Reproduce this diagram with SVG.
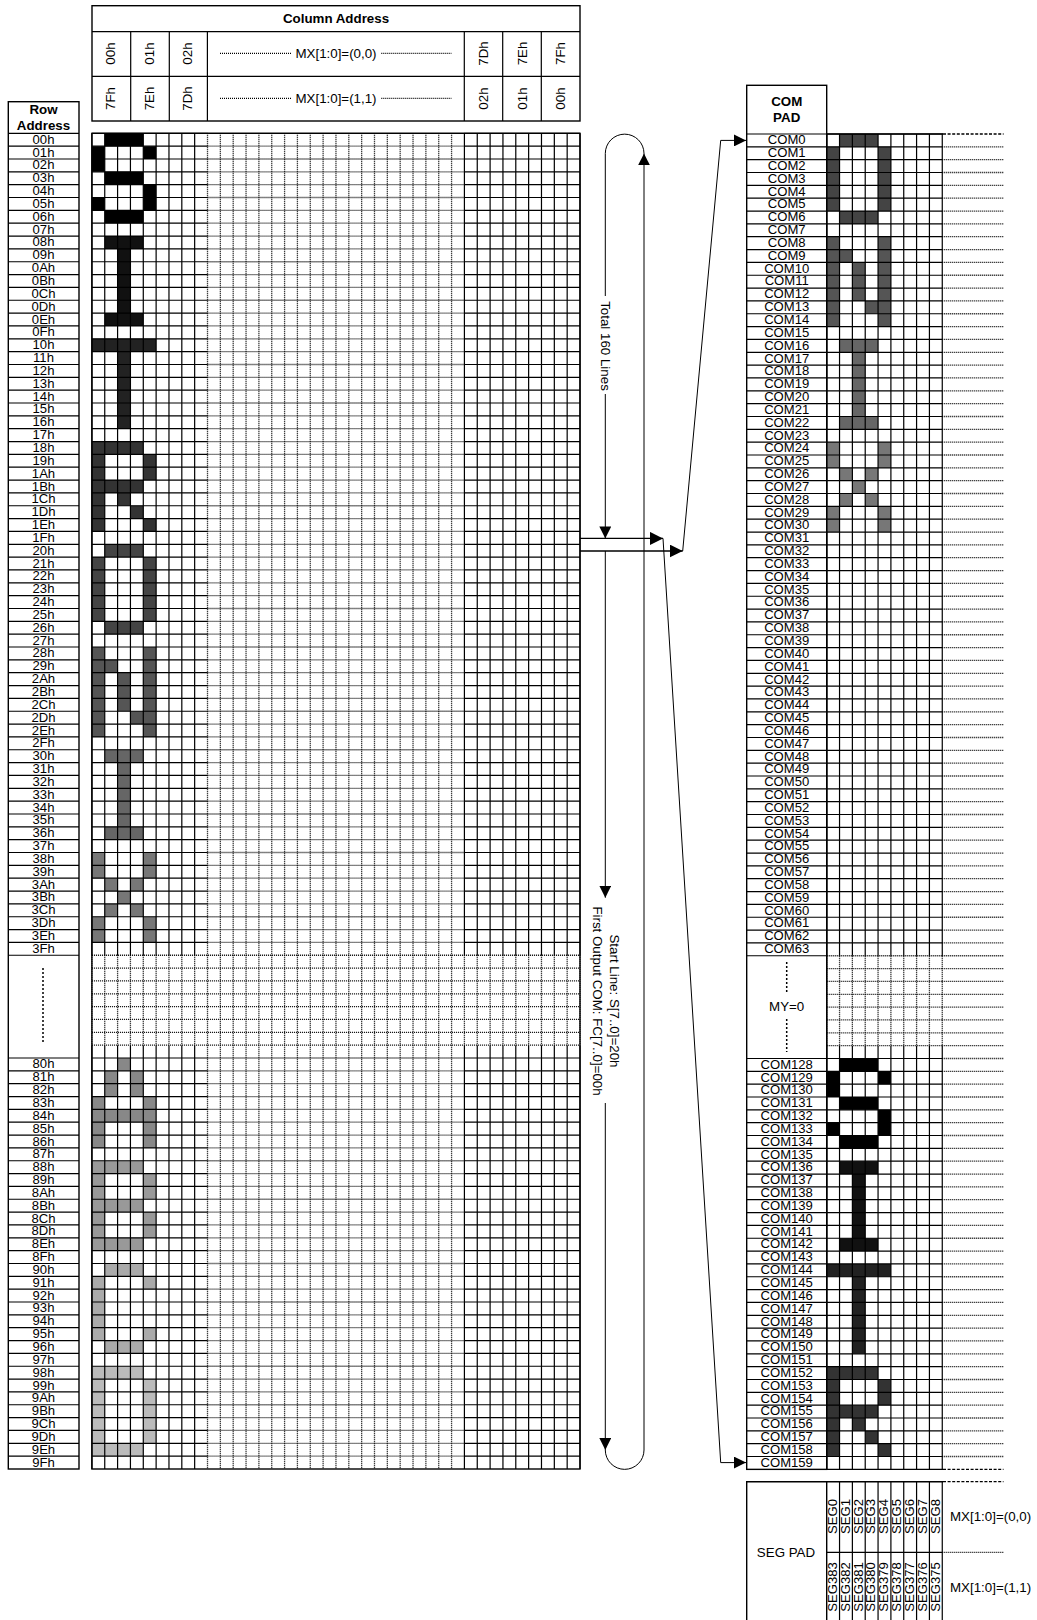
<svg xmlns="http://www.w3.org/2000/svg" width="1037" height="1620" viewBox="0 0 1037 1620">
<style>
text{font-family:"Liberation Sans",Arial,sans-serif;font-size:13.33px;fill:#000}
#row-address g text,#com-pad g text,#seg-pad text[transform]{font-size:13.1px}
.m{text-anchor:middle}
#row-address g text.b,#com-pad g text.b,.b{font-weight:bold;font-size:13.33px}
.s,.d,.w,.o,.c,.k{fill:none;stroke:#000;stroke-width:1.2}
.d{stroke-dasharray:1 1;stroke-width:1.3}
.w{stroke:#fff;stroke-width:2}
.o{stroke-width:1.4}
.k{stroke-width:1.3;stroke-dasharray:3 1.6}
.c{stroke:#000;stroke-width:1}
.v{stroke-width:1.5;stroke-dasharray:2 2}
</style>
<defs>
<marker id="a" markerUnits="userSpaceOnUse" markerWidth="12" markerHeight="12" refX="12" refY="6" orient="auto"><path d="M0 0L12 6L0 12z" fill="#000"/></marker>
<marker id="l" markerUnits="userSpaceOnUse" markerWidth="13" markerHeight="13" refX="13" refY="6.5" orient="auto"><path d="M0 0L13 6.5L0 13z" fill="#000"/></marker>
<path id="hSolidL" d="M91.9 0h115.61m256.9 0h115.6m-488.11 12.843h115.61m256.9 0h115.6m-488.11 12.843h115.61m256.9 0h115.6m-488.11 12.843h115.61m256.9 0h115.6m-488.11 12.843h115.61m256.9 0h115.6m-488.11 12.843h115.61m256.9 0h115.6m-488.11 12.843h115.61m256.9 0h115.6m-488.11 12.843h115.61m256.9 0h115.6"/>
<path id="hMidL" d="M207.51 0h256.9m-256.9 12.843h256.9m-256.9 12.843h256.9m-256.9 12.843h256.9m-256.9 12.843h256.9m-256.9 12.843h256.9m-256.9 12.843h256.9m-256.9 12.843h256.9"/>
<path id="hAllL" d="M91.9 0h488.11m-488.11 12.843h488.11m-488.11 12.843h488.11m-488.11 12.843h488.11m-488.11 12.843h488.11m-488.11 12.843h488.11m-488.11 12.843h488.11m-488.11 12.843h488.11"/>
<path id="hTabL" d="M8.3 0h70.7m-70.7 12.843h70.7m-70.7 12.843h70.7m-70.7 12.843h70.7m-70.7 12.843h70.7m-70.7 12.843h70.7m-70.7 12.843h70.7m-70.7 12.843h70.7"/>
<path id="hGridR" d="M826.7 0h115.56m-115.56 12.84h115.56m-115.56 12.84h115.56m-115.56 12.84h115.56m-115.56 12.84h115.56m-115.56 12.84h115.56m-115.56 12.84h115.56m-115.56 12.84h115.56"/>
<path id="hExtR" d="M942.26 0h61.2m-61.2 12.84h61.2m-61.2 12.84h61.2m-61.2 12.84h61.2m-61.2 12.84h61.2m-61.2 12.84h61.2m-61.2 12.84h61.2m-61.2 12.84h61.2"/>
<path id="hTabR" d="M746.7 0h80m-80 12.84h80m-80 12.84h80m-80 12.84h80m-80 12.84h80m-80 12.84h80m-80 12.84h80m-80 12.84h80"/>
<path id="gS" d="M1 0h3v1h-3zM0 1h1v2h-1zM4 1h1v1h-1zM1 3h3v1h-3zM4 4h1v2h-1zM0 5h1v1h-1zM1 6h3v1h-3z"/>
<path id="gI" d="M1 0h3v1h-3zM2 1h1v5h-1zM1 6h3v1h-3z"/>
<path id="gT" d="M0 0h5v1h-5zM2 1h1v6h-1z"/>
<path id="gR" d="M0 0h4v1h-4zM0 1h1v6h-1zM4 1h1v2h-1zM1 3h3v1h-3zM2 4h1v1h-1zM3 5h1v1h-1zM4 6h1v1h-1z"/>
<path id="gO" d="M1 0h3v1h-3zM0 1h1v5h-1zM4 1h1v5h-1zM1 6h3v1h-3z"/>
<path id="gN" d="M0 0h1v7h-1zM4 0h1v7h-1zM1 1h1v1h-1zM2 2h1v3h-1zM3 5h1v1h-1z"/>
<path id="gX" d="M0 0h1v2h-1zM4 0h1v2h-1zM1 2h1v1h-1zM3 2h1v1h-1zM2 3h1v1h-1zM1 4h1v1h-1zM3 4h1v1h-1zM0 5h1v2h-1zM4 5h1v2h-1z"/>
<path id="gA" d="M2 0h1v1h-1zM1 1h1v2h-1zM3 1h1v2h-1zM0 3h1v4h-1zM4 3h1v4h-1zM1 4h3v1h-3z"/>
<path id="gB" d="M0 0h4v1h-4zM0 1h1v5h-1zM4 1h1v2h-1zM1 3h3v1h-3zM4 4h1v2h-1zM0 6h4v1h-4z"/>
<path id="gC" d="M1 0h3v1h-3zM0 1h1v5h-1zM4 1h1v1h-1zM4 5h1v1h-1zM1 6h3v1h-3z"/>
<path id="gD" d="M0 0h4v1h-4zM0 1h1v5h-1zM4 1h1v5h-1zM0 6h4v1h-4z"/>
</defs>

<g id="column-address">
<rect class="o" x="92" y="5.7" width="488" height="115.3"/>
<path class="s" d="M92 31.7H580M92 76.3H580M130.7 31.7V121M169.3 31.7V121M207.4 31.7V121M464.3 31.7V121M502.7 31.7V121M541.3 31.7V121"/>
<path class="d" d="M220 53.3H291M381.3 53.3H451.7M220 98.3H291M381.3 98.3H451.7"/>
<text class="m b" x="336" y="23">Column Address</text>
<text class="m" x="336" y="58">MX[1:0]=(0,0)</text>
<text class="m" x="336" y="103">MX[1:0]=(1,1)</text>
<text class="m" x="115" y="53.5" transform="rotate(-90 115 53.5)">00h</text>
<text class="m" x="153.5" y="53.5" transform="rotate(-90 153.5 53.5)">01h</text>
<text class="m" x="192" y="53.5" transform="rotate(-90 192 53.5)">02h</text>
<text class="m" x="487.7" y="53.5" transform="rotate(-90 487.7 53.5)">7Dh</text>
<text class="m" x="526.5" y="53.5" transform="rotate(-90 526.5 53.5)">7Eh</text>
<text class="m" x="565" y="53.5" transform="rotate(-90 565 53.5)">7Fh</text>
<text class="m" x="115" y="98.5" transform="rotate(-90 115 98.5)">7Fh</text>
<text class="m" x="153.5" y="98.5" transform="rotate(-90 153.5 98.5)">7Eh</text>
<text class="m" x="192" y="98.5" transform="rotate(-90 192 98.5)">7Dh</text>
<text class="m" x="487.7" y="98.5" transform="rotate(-90 487.7 98.5)">02h</text>
<text class="m" x="526.5" y="98.5" transform="rotate(-90 526.5 98.5)">01h</text>
<text class="m" x="565" y="98.5" transform="rotate(-90 565 98.5)">00h</text>
</g>

<g id="row-address">
<use href="#hTabL" class="s" y="133.3"/><use href="#hTabL" class="s" y="236.04"/><use href="#hTabL" class="s" y="338.79"/><use href="#hTabL" class="s" y="441.53"/><use href="#hTabL" class="s" y="544.28"/><use href="#hTabL" class="s" y="647.02"/><use href="#hTabL" class="s" y="749.76"/><use href="#hTabL" class="s" y="852.51"/>
<path class="s" d="M8.3 955.25h70.7"/>
<use href="#hTabL" class="s" y="1058"/><use href="#hTabL" class="s" y="1160.74"/><use href="#hTabL" class="s" y="1263.48"/><use href="#hTabL" class="s" y="1366.23"/>
<rect class="o" x="8.3" y="101.7" width="70.7" height="1367.3"/>
<path class="s v" d="M43 968V1043"/>
<g transform="translate(43.5 -0.8)">
<text class="m b" y="114.8">Row</text><text class="m b" y="130.8">Address</text>
<text class="m" y="144.6">00h</text><text class="m" y="157.4">01h</text><text class="m" y="170.3">02h</text><text class="m" y="183.1">03h</text><text class="m" y="196">04h</text><text class="m" y="208.8">05h</text><text class="m" y="221.7">06h</text><text class="m" y="234.5">07h</text>
<text class="m" y="247.3">08h</text><text class="m" y="260.2">09h</text><text class="m" y="273">0Ah</text><text class="m" y="285.9">0Bh</text><text class="m" y="298.7">0Ch</text><text class="m" y="311.6">0Dh</text><text class="m" y="324.4">0Eh</text><text class="m" y="337.2">0Fh</text>
<text class="m" y="350.1">10h</text><text class="m" y="362.9">11h</text><text class="m" y="375.8">12h</text><text class="m" y="388.6">13h</text><text class="m" y="401.5">14h</text><text class="m" y="414.3">15h</text><text class="m" y="427.1">16h</text><text class="m" y="440">17h</text>
<text class="m" y="452.8">18h</text><text class="m" y="465.7">19h</text><text class="m" y="478.5">1Ah</text><text class="m" y="491.4">1Bh</text><text class="m" y="504.2">1Ch</text><text class="m" y="517.1">1Dh</text><text class="m" y="529.9">1Eh</text><text class="m" y="542.7">1Fh</text>
<text class="m" y="555.6">20h</text><text class="m" y="568.4">21h</text><text class="m" y="581.3">22h</text><text class="m" y="594.1">23h</text><text class="m" y="606.9">24h</text><text class="m" y="619.8">25h</text><text class="m" y="632.6">26h</text><text class="m" y="645.5">27h</text>
<text class="m" y="658.3">28h</text><text class="m" y="671.2">29h</text><text class="m" y="684">2Ah</text><text class="m" y="696.9">2Bh</text><text class="m" y="709.7">2Ch</text><text class="m" y="722.5">2Dh</text><text class="m" y="735.4">2Eh</text><text class="m" y="748.2">2Fh</text>
<text class="m" y="761.1">30h</text><text class="m" y="773.9">31h</text><text class="m" y="786.8">32h</text><text class="m" y="799.6">33h</text><text class="m" y="812.4">34h</text><text class="m" y="825.3">35h</text><text class="m" y="838.1">36h</text><text class="m" y="851">37h</text>
<text class="m" y="863.8">38h</text><text class="m" y="876.7">39h</text><text class="m" y="889.5">3Ah</text><text class="m" y="902.3">3Bh</text><text class="m" y="915.2">3Ch</text><text class="m" y="928">3Dh</text><text class="m" y="940.9">3Eh</text><text class="m" y="953.7">3Fh</text>
<text class="m" y="1069.3">80h</text><text class="m" y="1082.1">81h</text><text class="m" y="1095">82h</text><text class="m" y="1107.8">83h</text><text class="m" y="1120.7">84h</text><text class="m" y="1133.5">85h</text><text class="m" y="1146.4">86h</text><text class="m" y="1159.2">87h</text>
<text class="m" y="1172">88h</text><text class="m" y="1184.9">89h</text><text class="m" y="1197.7">8Ah</text><text class="m" y="1210.6">8Bh</text><text class="m" y="1223.4">8Ch</text><text class="m" y="1236.3">8Dh</text><text class="m" y="1249.1">8Eh</text><text class="m" y="1261.9">8Fh</text>
<text class="m" y="1274.8">90h</text><text class="m" y="1287.6">91h</text><text class="m" y="1300.5">92h</text><text class="m" y="1313.3">93h</text><text class="m" y="1326.2">94h</text><text class="m" y="1339">95h</text><text class="m" y="1351.8">96h</text><text class="m" y="1364.7">97h</text>
<text class="m" y="1377.5">98h</text><text class="m" y="1390.4">99h</text><text class="m" y="1403.2">9Ah</text><text class="m" y="1416.1">9Bh</text><text class="m" y="1428.9">9Ch</text><text class="m" y="1441.8">9Dh</text><text class="m" y="1454.6">9Eh</text><text class="m" y="1467.4">9Fh</text>
</g>
</g>

<g id="grid-left">
<use href="#gS" fill="#000" transform="translate(91.9 133.3) scale(12.845 12.843)"/>
<use href="#gI" fill="#111" transform="translate(91.9 236.04) scale(12.845 12.843)"/>
<use href="#gT" fill="#222" transform="translate(91.9 338.79) scale(12.845 12.843)"/>
<use href="#gR" fill="#333" transform="translate(91.9 441.53) scale(12.845 12.843)"/>
<use href="#gO" fill="#444" transform="translate(91.9 544.28) scale(12.845 12.843)"/>
<use href="#gN" fill="#555" transform="translate(91.9 647.02) scale(12.845 12.843)"/>
<use href="#gI" fill="#666" transform="translate(91.9 749.76) scale(12.845 12.843)"/>
<use href="#gX" fill="#777" transform="translate(91.9 852.51) scale(12.845 12.843)"/>
<use href="#gA" fill="#888" transform="translate(91.9 1058) scale(12.845 12.843)"/>
<use href="#gB" fill="#999" transform="translate(91.9 1160.74) scale(12.845 12.843)"/>
<use href="#gC" fill="#aaa" transform="translate(91.9 1263.48) scale(12.845 12.843)"/>
<use href="#gD" fill="#bbb" transform="translate(91.9 1366.23) scale(12.845 12.843)"/>
<use href="#hSolidL" class="s" y="133.3"/><use href="#hSolidL" class="s" y="236.04"/><use href="#hSolidL" class="s" y="338.79"/><use href="#hSolidL" class="s" y="441.53"/><use href="#hSolidL" class="s" y="544.28"/><use href="#hSolidL" class="s" y="647.02"/><use href="#hSolidL" class="s" y="749.76"/><use href="#hSolidL" class="s" y="852.51"/>
<use href="#hSolidL" class="s" y="1058"/><use href="#hSolidL" class="s" y="1160.74"/><use href="#hSolidL" class="s" y="1263.48"/><use href="#hSolidL" class="s" y="1366.23"/>
<use href="#hMidL" class="d" y="133.3"/><use href="#hMidL" class="d" y="236.04"/><use href="#hMidL" class="d" y="338.79"/><use href="#hMidL" class="d" y="441.53"/><use href="#hMidL" class="d" y="544.28"/><use href="#hMidL" class="d" y="647.02"/><use href="#hMidL" class="d" y="749.76"/><use href="#hMidL" class="d" y="852.51"/>
<use href="#hAllL" class="d" y="955.25"/>
<use href="#hMidL" class="d" y="1058"/><use href="#hMidL" class="d" y="1160.74"/><use href="#hMidL" class="d" y="1263.48"/><use href="#hMidL" class="d" y="1366.23"/>
<path class="s" d="M91.9 133.3v821.95m12.845-821.95v821.95m12.845-821.95v821.95m12.845-821.95v821.95m12.845-821.95v821.95m12.845-821.95v821.95m12.845-821.95v821.95m12.845-821.95v821.95m12.845-821.95v821.95M464.41 133.3v821.95m12.845-821.95v821.95m12.845-821.95v821.95m12.845-821.95v821.95m12.845-821.95v821.95m12.845-821.95v821.95m12.845-821.95v821.95m12.845-821.95v821.95m12.845-821.95v821.95m12.845-821.95v821.95"/>
<path class="s" d="M91.9 1045.15v423.85m12.845-423.85v423.85m12.845-423.85v423.85m12.845-423.85v423.85m12.845-423.85v423.85m12.845-423.85v423.85m12.845-423.85v423.85m12.845-423.85v423.85m12.845-423.85v423.85M464.41 1045.15v423.85m12.845-423.85v423.85m12.845-423.85v423.85m12.845-423.85v423.85m12.845-423.85v423.85m12.845-423.85v423.85m12.845-423.85v423.85m12.845-423.85v423.85m12.845-423.85v423.85m12.845-423.85v423.85"/>
<path class="d" d="M91.9 955.25v89.9m12.845-89.9v89.9m12.845-89.9v89.9m12.845-89.9v89.9m12.845-89.9v89.9m12.845-89.9v89.9m12.845-89.9v89.9m12.845-89.9v89.9m12.845-89.9v89.9M464.41 955.25v89.9m12.845-89.9v89.9m12.845-89.9v89.9m12.845-89.9v89.9m12.845-89.9v89.9m12.845-89.9v89.9m12.845-89.9v89.9m12.845-89.9v89.9m12.845-89.9v89.9m12.845-89.9v89.9"/>
<path class="d" d="M207.51 133.3v1335.7m12.845-1335.7v1335.7m12.845-1335.7v1335.7m12.845-1335.7v1335.7m12.845-1335.7v1335.7m12.845-1335.7v1335.7m12.845-1335.7v1335.7m12.845-1335.7v1335.7m12.845-1335.7v1335.7m12.845-1335.7v1335.7m12.845-1335.7v1335.7m12.845-1335.7v1335.7m12.845-1335.7v1335.7m12.845-1335.7v1335.7m12.845-1335.7v1335.7m12.845-1335.7v1335.7m12.845-1335.7v1335.7m12.845-1335.7v1335.7m12.845-1335.7v1335.7m12.845-1335.7v1335.7"/>
<rect class="o" x="91.9" y="133.3" width="488.1" height="1335.7"/>
</g>

<g id="com-pad">
<use href="#hTabR" class="s" y="134"/><use href="#hTabR" class="s" y="236.72"/><use href="#hTabR" class="s" y="339.44"/><use href="#hTabR" class="s" y="442.16"/><use href="#hTabR" class="s" y="544.88"/><use href="#hTabR" class="s" y="647.6"/><use href="#hTabR" class="s" y="750.32"/><use href="#hTabR" class="s" y="853.04"/>
<path class="s" d="M746.7 955.76h80"/>
<use href="#hTabR" class="s" y="1058.48"/><use href="#hTabR" class="s" y="1161.2"/><use href="#hTabR" class="s" y="1263.92"/><use href="#hTabR" class="s" y="1366.64"/>
<rect class="o" x="746.7" y="85.3" width="80" height="1384.06"/>
<path class="s v" d="M786.7 962V993M786.7 1019V1052"/>
<text class="m" x="786.7" y="1011">MY=0</text>
<g transform="translate(786.7 -1.2)">
<text class="m b" y="107.2">COM</text><text class="m b" y="123.2">PAD</text>
<text class="m" y="145.5">COM0</text><text class="m" y="158.3">COM1</text><text class="m" y="171.2">COM2</text><text class="m" y="184">COM3</text><text class="m" y="196.9">COM4</text><text class="m" y="209.7">COM5</text><text class="m" y="222.5">COM6</text><text class="m" y="235.4">COM7</text>
<text class="m" y="248.2">COM8</text><text class="m" y="261.1">COM9</text><text class="m" y="273.9">COM10</text><text class="m" y="286.7">COM11</text><text class="m" y="299.6">COM12</text><text class="m" y="312.4">COM13</text><text class="m" y="325.3">COM14</text><text class="m" y="338.1">COM15</text>
<text class="m" y="350.9">COM16</text><text class="m" y="363.8">COM17</text><text class="m" y="376.6">COM18</text><text class="m" y="389.5">COM19</text><text class="m" y="402.3">COM20</text><text class="m" y="415.1">COM21</text><text class="m" y="428">COM22</text><text class="m" y="440.8">COM23</text>
<text class="m" y="453.7">COM24</text><text class="m" y="466.5">COM25</text><text class="m" y="479.3">COM26</text><text class="m" y="492.2">COM27</text><text class="m" y="505">COM28</text><text class="m" y="517.9">COM29</text><text class="m" y="530.7">COM30</text><text class="m" y="543.5">COM31</text>
<text class="m" y="556.4">COM32</text><text class="m" y="569.2">COM33</text><text class="m" y="582.1">COM34</text><text class="m" y="594.9">COM35</text><text class="m" y="607.7">COM36</text><text class="m" y="620.6">COM37</text><text class="m" y="633.4">COM38</text><text class="m" y="646.3">COM39</text>
<text class="m" y="659.1">COM40</text><text class="m" y="671.9">COM41</text><text class="m" y="684.8">COM42</text><text class="m" y="697.6">COM43</text><text class="m" y="710.5">COM44</text><text class="m" y="723.3">COM45</text><text class="m" y="736.1">COM46</text><text class="m" y="749">COM47</text>
<text class="m" y="761.8">COM48</text><text class="m" y="774.7">COM49</text><text class="m" y="787.5">COM50</text><text class="m" y="800.3">COM51</text><text class="m" y="813.2">COM52</text><text class="m" y="826">COM53</text><text class="m" y="838.9">COM54</text><text class="m" y="851.7">COM55</text>
<text class="m" y="864.5">COM56</text><text class="m" y="877.4">COM57</text><text class="m" y="890.2">COM58</text><text class="m" y="903.1">COM59</text><text class="m" y="915.9">COM60</text><text class="m" y="928.7">COM61</text><text class="m" y="941.6">COM62</text><text class="m" y="954.4">COM63</text>
<text class="m" y="1070">COM128</text><text class="m" y="1082.8">COM129</text><text class="m" y="1095.7">COM130</text><text class="m" y="1108.5">COM131</text><text class="m" y="1121.3">COM132</text><text class="m" y="1134.2">COM133</text><text class="m" y="1147">COM134</text><text class="m" y="1159.9">COM135</text>
<text class="m" y="1172.7">COM136</text><text class="m" y="1185.5">COM137</text><text class="m" y="1198.4">COM138</text><text class="m" y="1211.2">COM139</text><text class="m" y="1224.1">COM140</text><text class="m" y="1236.9">COM141</text><text class="m" y="1249.7">COM142</text><text class="m" y="1262.6">COM143</text>
<text class="m" y="1275.4">COM144</text><text class="m" y="1288.3">COM145</text><text class="m" y="1301.1">COM146</text><text class="m" y="1313.9">COM147</text><text class="m" y="1326.8">COM148</text><text class="m" y="1339.6">COM149</text><text class="m" y="1352.5">COM150</text><text class="m" y="1365.3">COM151</text>
<text class="m" y="1378.1">COM152</text><text class="m" y="1391">COM153</text><text class="m" y="1403.8">COM154</text><text class="m" y="1416.7">COM155</text><text class="m" y="1429.5">COM156</text><text class="m" y="1442.3">COM157</text><text class="m" y="1455.2">COM158</text><text class="m" y="1468">COM159</text>
</g>
</g>

<g id="grid-right">
<use href="#gO" fill="#444" transform="translate(826.7 134) scale(12.84)"/>
<use href="#gN" fill="#555" transform="translate(826.7 236.72) scale(12.84)"/>
<use href="#gI" fill="#666" transform="translate(826.7 339.44) scale(12.84)"/>
<use href="#gX" fill="#777" transform="translate(826.7 442.16) scale(12.84)"/>
<use href="#gS" fill="#000" transform="translate(826.7 1058.48) scale(12.84)"/>
<use href="#gI" fill="#111" transform="translate(826.7 1161.2) scale(12.84)"/>
<use href="#gT" fill="#222" transform="translate(826.7 1263.92) scale(12.84)"/>
<use href="#gR" fill="#333" transform="translate(826.7 1366.64) scale(12.84)"/>
<use href="#hGridR" class="s" y="134"/><use href="#hGridR" class="s" y="236.72"/><use href="#hGridR" class="s" y="339.44"/><use href="#hGridR" class="s" y="442.16"/><use href="#hGridR" class="s" y="544.88"/><use href="#hGridR" class="s" y="647.6"/><use href="#hGridR" class="s" y="750.32"/><use href="#hGridR" class="s" y="853.04"/>
<use href="#hGridR" class="d" y="955.76"/>
<use href="#hGridR" class="s" y="1058.48"/><use href="#hGridR" class="s" y="1161.2"/><use href="#hGridR" class="s" y="1263.92"/><use href="#hGridR" class="s" y="1366.64"/>
<use href="#hExtR" class="d" y="134"/><use href="#hExtR" class="d" y="236.72"/><use href="#hExtR" class="d" y="339.44"/><use href="#hExtR" class="d" y="442.16"/><use href="#hExtR" class="d" y="544.88"/><use href="#hExtR" class="d" y="647.6"/><use href="#hExtR" class="d" y="750.32"/><use href="#hExtR" class="d" y="853.04"/><use href="#hExtR" class="d" y="955.76"/><use href="#hExtR" class="d" y="1058.48"/><use href="#hExtR" class="d" y="1161.2"/><use href="#hExtR" class="d" y="1263.92"/><use href="#hExtR" class="d" y="1366.64"/>
<path class="s" d="M826.7 134v821.76m12.84-821.76v821.76m12.84-821.76v821.76m12.84-821.76v821.76m12.84-821.76v821.76m12.84-821.76v821.76m12.84-821.76v821.76m12.84-821.76v821.76m12.84-821.76v821.76m12.84-821.76v821.76"/>
<path class="d" d="M826.7 955.76v89.88m12.84-89.88v89.88m12.84-89.88v89.88m12.84-89.88v89.88m12.84-89.88v89.88m12.84-89.88v89.88m12.84-89.88v89.88m12.84-89.88v89.88m12.84-89.88v89.88m12.84-89.88v89.88"/>
<path class="s" d="M826.7 1045.64v423.72m12.84-423.72v423.72m12.84-423.72v423.72m12.84-423.72v423.72m12.84-423.72v423.72m12.84-423.72v423.72m12.84-423.72v423.72m12.84-423.72v423.72m12.84-423.72v423.72m12.84-423.72v423.72"/>
<path class="o" d="M826.7 134V1469.36M826.7 134H943M826.7 1469.36H943"/>
<path class="w" d="M943 134H1003.5"/>
<path class="k" d="M943 134H1003.5M943 1469.36H1003.5"/>
</g>

<g id="seg-pad">
<path class="o" d="M746.7 1621V1481.7H943"/>
<path class="o" d="M826.7 1481.7V1621"/>
<path class="k" d="M943 1481.7H1003.5"/>
<path class="s" d="M839.54 1481.7v139.3m12.84-139.3v139.3m12.84-139.3v139.3m12.84-139.3v139.3m12.84-139.3v139.3m12.84-139.3v139.3m12.84-139.3v139.3m12.84-139.3v139.3m12.84-139.3v139.3M826.7 1552.3H942.3"/>
<path class="d" d="M942.3 1552.3H1003.5"/>
<text class="m" x="786" y="1557">SEG PAD</text>
<text x="950" y="1521">MX[1:0]=(0,0)</text>
<text x="950" y="1592">MX[1:0]=(1,1)</text>
<text x="836.9" y="1534" transform="rotate(-90 836.9 1534)">SEG0</text>
<text x="849.7" y="1534" transform="rotate(-90 849.7 1534)">SEG1</text>
<text x="862.6" y="1534" transform="rotate(-90 862.6 1534)">SEG2</text>
<text x="875.4" y="1534" transform="rotate(-90 875.4 1534)">SEG3</text>
<text x="888.3" y="1534" transform="rotate(-90 888.3 1534)">SEG4</text>
<text x="901.1" y="1534" transform="rotate(-90 901.1 1534)">SEG5</text>
<text x="914" y="1534" transform="rotate(-90 914 1534)">SEG6</text>
<text x="926.8" y="1534" transform="rotate(-90 926.8 1534)">SEG7</text>
<text x="939.6" y="1534" transform="rotate(-90 939.6 1534)">SEG8</text>
<text x="836.9" y="1611.7" transform="rotate(-90 836.9 1611.7)">SEG383</text>
<text x="849.7" y="1611.7" transform="rotate(-90 849.7 1611.7)">SEG382</text>
<text x="862.6" y="1611.7" transform="rotate(-90 862.6 1611.7)">SEG381</text>
<text x="875.4" y="1611.7" transform="rotate(-90 875.4 1611.7)">SEG380</text>
<text x="888.3" y="1611.7" transform="rotate(-90 888.3 1611.7)">SEG379</text>
<text x="901.1" y="1611.7" transform="rotate(-90 901.1 1611.7)">SEG378</text>
<text x="914" y="1611.7" transform="rotate(-90 914 1611.7)">SEG377</text>
<text x="926.8" y="1611.7" transform="rotate(-90 926.8 1611.7)">SEG376</text>
<text x="939.6" y="1611.7" transform="rotate(-90 939.6 1611.7)">SEG375</text>
</g>

<g id="connectors">
<path class="c" d="M605.3 296V153.5A19.35 19.35 0 0 1 644 153.5"/>
<path class="c" d="M605.3 394V538.4" marker-end="url(#a)"/>
<path class="c" d="M605.3 551V897.7" marker-end="url(#a)"/>
<path class="c" d="M605.3 1103V1450" marker-end="url(#a)"/>
<path class="c" d="M605.3 1450A19.35 19.35 0 0 0 644 1450V153.4" marker-end="url(#a)"/>
<path class="c" d="M580 538.4H663" style="stroke-width:1.3" marker-end="url(#l)"/>
<path class="c" d="M580 551H682.7" style="stroke-width:1.3" marker-end="url(#l)"/>
<path class="c" d="M663 538.4L720.7 1462.6H746" marker-end="url(#a)"/>
<path class="c" d="M682.7 551L720.7 140.4H746" marker-end="url(#a)"/>
<text class="m" x="601" y="346" transform="rotate(90 601 346)">Total 160 Lines</text>
<text class="m" x="610" y="1001" transform="rotate(90 610 1001)">Start Line: S[7..0]=20h</text>
<text class="m" x="592.5" y="1001" transform="rotate(90 592.5 1001)">First Output COM: FC[7..0]=00h</text>
</g>
</svg>
